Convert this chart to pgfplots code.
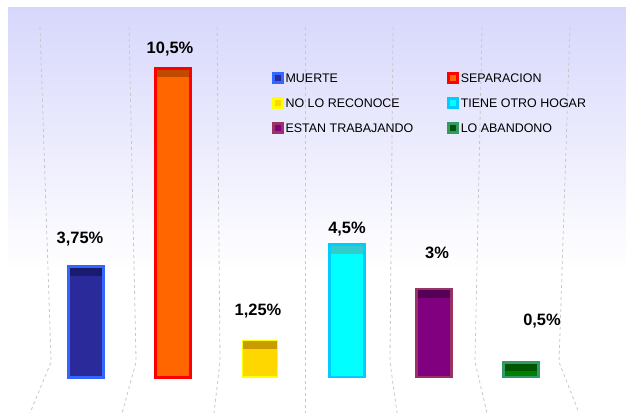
\documentclass[border=0pt]{standalone}
\usepackage{pgfplots}
\pgfplotsset{compat=1.18}
\usepackage{fontspec}
\setmainfont{Liberation Sans}
\definecolor{lav}{RGB}{215,215,252}
\pgfdeclareverticalshading{bgshade}{100bp}{color(0bp)=(white); color(25bp)=(white); color(42.7bp)=(white); color(75bp)=(lav); color(100bp)=(lav)}
% bar colours
\definecolor{bBlue}{RGB}{51,102,255}\definecolor{fBlue}{RGB}{42,42,154}\definecolor{cBlue}{RGB}{26,26,110}
\definecolor{bOra}{RGB}{255,0,0}\definecolor{fOra}{RGB}{255,102,0}\definecolor{cOra}{RGB}{190,75,0}
\definecolor{bYel}{RGB}{255,255,0}\definecolor{fYel}{RGB}{255,215,0}\definecolor{cYel}{RGB}{200,155,0}
\definecolor{bCya}{RGB}{0,204,255}\definecolor{fCya}{RGB}{0,255,255}\definecolor{cCya}{RGB}{51,204,204}
\definecolor{bPur}{RGB}{153,51,102}\definecolor{fPur}{RGB}{128,0,128}\definecolor{cPur}{RGB}{85,0,85}
\definecolor{bGre}{RGB}{51,153,102}\definecolor{fGre}{RGB}{0,128,0}\definecolor{cGre}{RGB}{0,85,0}
\pgfplotsset{
  mybar/.style={ybar, bar shift=0pt, bar width=35bp, forget plot},
  lbl/.style={every node near coord/.append style={font=\fontsize{16.5}{18}\selectfont\bfseries, text=black, anchor=base, inner sep=0pt}},
  grd/.style={draw={rgb,255:red,200;green,200;blue,200}, dash pattern=on 3bp off 3bp, line width=0.8bp, forget plot, no markers},
  lim/.style 2 args={legend image code/.code={
      \fill[#1] (0bp,-5.5bp) rectangle (11bp,5.5bp);
      \fill[#2] (3bp,-2.5bp) rectangle (8bp,2.5bp);}},
}
\begin{document}
\begin{tikzpicture}
\useasboundingbox (-8bp,0) rectangle (618bp,413bp);
\begin{axis}[
  at={(0,0)}, anchor=south west,
  scale only axis, width=618bp, height=405bp,
  xmin=-0.897, xmax=6.207, ymin=-1.224, ymax=12.551,
  axis line style={draw=none}, xtick=\empty, ytick=\empty,
  axis background/.style={shading=bgshade},
  clip=false,
  legend columns=2,
  legend style={at={(0.4272,0.8437)}, anchor=north west, draw=none, fill=none,
    inner sep=0pt, column sep=0bp, row sep=12bp,
    nodes={font=\fontsize{12.5}{14}\selectfont, text height=9bp, text depth=0bp, inner xsep=2bp, inner ysep=2bp},
    /tikz/column 2/.style={column sep=32bp}},
  legend cell align=left,
]
% gridlines
\addplot[grd] coordinates {(-0.529,11.905) (-0.402,0.51) (-0.644,-1.224)};
\addplot[grd] coordinates {(0.494,11.905) (0.575,0.51) (0.414,-1.224)};
\addplot[grd] coordinates {(1.506,11.905) (1.540,0.51) (1.471,-1.224)};
\addplot[grd] coordinates {(2.517,11.905) (2.517,0.51) (2.517,-1.224)};
\addplot[grd] coordinates {(3.529,11.905) (3.494,0.51) (3.575,-1.224)};
\addplot[grd] coordinates {(4.552,11.905) (4.471,0.51) (4.609,-1.224)};
\addplot[grd] coordinates {(5.563,11.905) (5.437,0.51) (5.667,-1.224)};
% MUERTE
\addplot[mybar, fill=cBlue, draw=none] coordinates {(0,3.75)};
\addplot[mybar, fill=fBlue, draw=none] coordinates {(0,3.45)};
\addplot[mybar, fill=none, draw=bBlue, line width=3bp, lbl, nodes near coords={3,75\%},
  every node near coord/.append style={xshift=-6bp, yshift=23bp}] coordinates {(0,3.75)};
% SEPARACION
\addplot[mybar, fill=cOra, draw=none] coordinates {(1,10.5)};
\addplot[mybar, fill=fOra, draw=none] coordinates {(1,10.2)};
\addplot[mybar, fill=none, draw=bOra, line width=3bp, lbl, nodes near coords={10,5\%},
  every node near coord/.append style={xshift=-3bp, yshift=15bp}] coordinates {(1,10.5)};
% NO LO RECONOCE
\addplot[mybar, fill=cYel, draw=none] coordinates {(2,1.25)};
\addplot[mybar, fill=fYel, draw=none] coordinates {(2,0.95)};
\addplot[mybar, fill=none, draw=bYel, line width=1.2bp, lbl, nodes near coords={1,25\%},
  every node near coord/.append style={xshift=-2bp, yshift=25bp}] coordinates {(2,1.25)};
% TIENE OTRO HOGAR
\addplot[mybar, fill=cCya, draw=none] coordinates {(3,4.5)};
\addplot[mybar, fill=fCya, draw=none] coordinates {(3,4.2)};
\addplot[mybar, fill=none, draw=bCya, line width=2.5bp, lbl, nodes near coords={4,5\%},
  every node near coord/.append style={xshift=0bp, yshift=11bp}] coordinates {(3,4.5)};
% ESTAN TRABAJANDO
\addplot[mybar, fill=cPur, draw=none] coordinates {(4,3)};
\addplot[mybar, fill=fPur, draw=none] coordinates {(4,2.7)};
\addplot[mybar, fill=none, draw=bPur, line width=2.5bp, lbl, nodes near coords={3\%},
  every node near coord/.append style={xshift=3bp, yshift=30bp}] coordinates {(4,3)};
% LO ABANDONO
\addplot[mybar, fill=cGre, draw=none] coordinates {(5,0.5)};
\addplot[mybar, fill=fGre, draw=none] coordinates {(5,0.2)};
\addplot[mybar, fill=none, draw=bGre, line width=2.5bp, lbl, nodes near coords={0,5\%},
  every node near coord/.append style={xshift=21bp, yshift=37bp}] coordinates {(5,0.5)};
% legend
\addlegendimage{lim={bBlue}{fBlue}}\addlegendentry{MUERTE}
\addlegendimage{lim={bOra}{fOra}}\addlegendentry{SEPARACION}
\addlegendimage{lim={bYel}{fYel}}\addlegendentry{NO LO RECONOCE}
\addlegendimage{lim={bCya}{fCya}}\addlegendentry{TIENE OTRO HOGAR}
\addlegendimage{lim={bPur}{fPur}}\addlegendentry{ESTAN TRABAJANDO}
\addlegendimage{lim={bGre}{cGre}}\addlegendentry{LO ABANDONO}
\end{axis}
\end{tikzpicture}
\end{document}
